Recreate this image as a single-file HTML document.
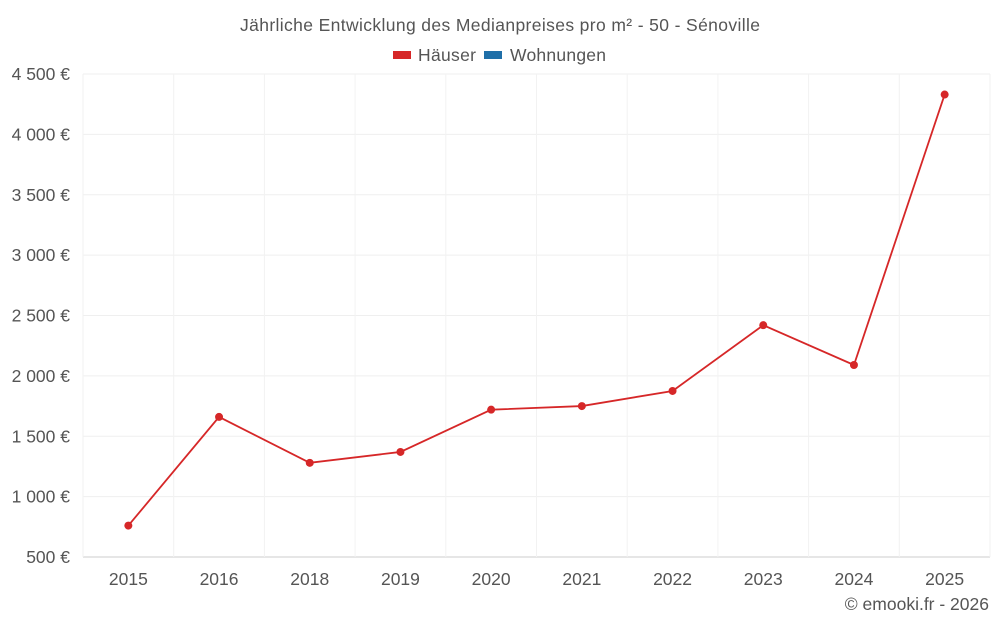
<!DOCTYPE html>
<html><head><meta charset="utf-8">
<style>
body{margin:0;background:#fff;font-family:"Liberation Sans",sans-serif;}
svg text{font-family:"Liberation Sans",sans-serif;fill:#555;}
</style></head>
<body>
<svg id="chart" width="1000" height="625" xmlns="http://www.w3.org/2000/svg">
<text x="500" y="31" text-anchor="middle" font-size="17.5" textLength="520">Jährliche Entwicklung des Medianpreises pro m² - 50 - Sénoville</text>
<g>
<rect x="393" y="51" width="18" height="8" fill="#d62728"/>
<text x="418" y="61" font-size="17.5" textLength="58">Häuser</text>
<rect x="484" y="51" width="18" height="8" fill="#1f6fa8"/>
<text x="510" y="61" font-size="17.5" textLength="96">Wohnungen</text>
</g>
<g id="grid"></g>
<g id="axes"></g>
<g id="series"></g>
<text x="989" y="610" text-anchor="end" font-size="17.5">© emooki.fr - 2026</text>
</svg>
<script>
const categories=["2015","2016","2018","2019","2020","2021","2022","2023","2024","2025"];
const housePrices=[760,1660,1280,1370,1720,1750,1875,2420,2090,4330];
const yTicks=[500,1000,1500,2000,2500,3000,3500,4000,4500];
const yTickLabels=["500 €","1 000 €","1 500 €","2 000 €","2 500 €","3 000 €","3 500 €","4 000 €","4 500 €"];
const NS="http://www.w3.org/2000/svg";
const L=83,R=990,T=74,B=557,yMin=500,yMax=4500;
const band=(R-L)/categories.length;
function x(i){return L+band*(i+0.5);}
function y(v){return B-(v-yMin)/(yMax-yMin)*(B-T);}
function mk(tag,attrs,parent){const e=document.createElementNS(NS,tag);for(const k in attrs)e.setAttribute(k,attrs[k]);parent.appendChild(e);return e;}
const grid=document.getElementById('grid'),axes=document.getElementById('axes'),series=document.getElementById('series');
yTicks.forEach((v,i)=>{
 const ln=mk('line',{x1:L,x2:R,y1:y(v),y2:y(v),stroke:i===0?'#ccc':'#efefef'},grid);
 
 
 const t=mk('text',{x:70,y:y(v)+6,'text-anchor':'end','font-size':17.5},axes);
 t.textContent=yTickLabels[i];
 
 
});
for(let i=0;i<=categories.length;i++){
 const gx=L+band*i;
 const ln=mk('line',{x1:gx,x2:gx,y1:T,y2:B,stroke:'#f2f2f2'},grid);
 
 
}
categories.forEach((c,i)=>{
 const t=mk('text',{x:x(i),y:585,'text-anchor':'middle','font-size':17.5},axes);
 t.textContent=c;
 
 
});
const pts=housePrices.map((v,i)=>x(i)+','+y(v)).join(' ');
const pl=mk('polyline',{points:pts,fill:'none',stroke:'#d62728','stroke-width':1.8},series);


housePrices.forEach((v,i)=>{
 const c=mk('circle',{cx:x(i),cy:y(v),r:4,fill:'#d62728'},series);
 
 
});
</script>
</body></html>
